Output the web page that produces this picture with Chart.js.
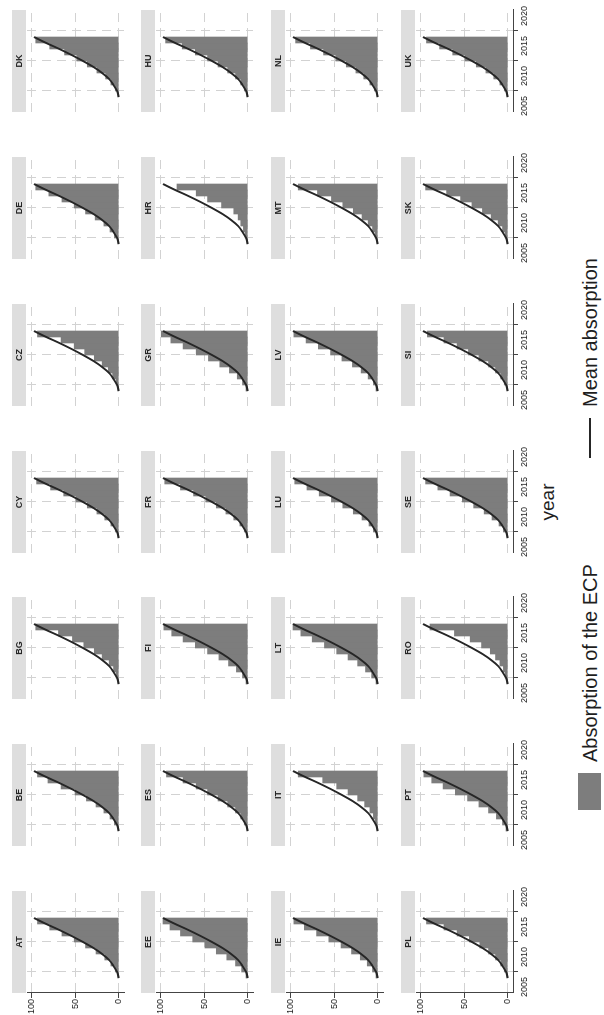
<!DOCTYPE html>
<html>
<head>
<meta charset="utf-8">
<script src="https://cdn.jsdelivr.net/npm/chart.js@4.4.1/dist/chart.umd.min.js"></script>
<style>
  html, body { margin: 0; padding: 0; background: #fff; width: 604px; height: 1015px; overflow: hidden; }
  #fig { position: absolute; left: 0; top: 0; width: 1015px; height: 604px;
         transform-origin: 0 0; transform: translate(0px, 1015px) rotate(-90deg);
         font-family: "Liberation Sans", Arial, sans-serif; color: #1e1e1e; background: #fff; }
  #fig canvas { position: absolute; }
  .abs { position: absolute; white-space: nowrap; }
</style>
</head>
<body>
<div id="fig"></div>
<script>
// ---------------- data ----------------
const years = [2007, 2008, 2009, 2010, 2011, 2012, 2013, 2014, 2015, 2016];
const meanYears = [2006.5, 2007.5, 2008.5, 2009.5, 2010.5, 2011.5, 2012.5, 2013.5, 2014.5, 2015.5, 2016.5];
const meanAbsorption = [0, 2, 6, 11, 19, 29, 41, 54, 68, 83, 97];
const xTickValues = [2005, 2010, 2015, 2020];
const yTickValues = [0, 50, 100];

const panelRows = [
  ["AT", "BE", "BG", "CY", "CZ", "DE", "DK"],
  ["EE", "ES", "FI", "FR", "GR", "HR", "HU"],
  ["IE", "IT", "LT", "LU", "LV", "MT", "NL"],
  ["PL", "PT", "RO", "SE", "SI", "SK", "UK"]
];

const AT = [1, 4, 9, 16, 26, 38, 51, 65, 79, 93];
const BE = [1, 5, 10, 17, 26, 37, 50, 66, 81, 93];
const BG = [1, 3, 6, 11, 19, 28, 40, 53, 69, 95];
const CY = [1, 4, 9, 16, 25, 36, 49, 63, 78, 94];
const CZ = [1, 3, 7, 12, 19, 28, 39, 51, 66, 93];
const DE = [1, 5, 10, 17, 27, 38, 51, 65, 80, 95];
const DK = [1, 4, 9, 15, 25, 36, 48, 62, 79, 95];
const EE = [2, 7, 14, 24, 36, 49, 63, 77, 89, 97];
const ES = [1, 4, 8, 14, 23, 34, 46, 59, 74, 93];
const FI = [2, 6, 13, 22, 33, 46, 60, 74, 87, 96];
const FR = [1, 4, 9, 16, 25, 36, 48, 62, 77, 95];
const GR = [2, 6, 12, 21, 32, 45, 59, 74, 88, 99];
const HR = [1, 3, 5, 8, 11, 16, 30, 46, 59, 81];
const HU = [1, 4, 8, 14, 23, 34, 46, 60, 75, 94];
const IE = [2, 6, 12, 20, 30, 42, 56, 70, 84, 96];
const IT = [1, 3, 5, 9, 15, 23, 34, 47, 63, 91];
const LT = [2, 7, 14, 23, 34, 47, 61, 75, 88, 97];
const LU = [1, 5, 10, 18, 28, 40, 53, 67, 81, 95];
const LV = [2, 5, 11, 19, 29, 41, 54, 68, 82, 96];
const MT = [1, 3, 6, 11, 18, 28, 40, 53, 69, 91];
const NL = [1, 4, 9, 16, 25, 36, 48, 62, 77, 94];
const PL = [1, 4, 8, 14, 22, 32, 44, 58, 73, 93];
const PT = [2, 6, 13, 22, 33, 46, 60, 74, 87, 96];
const RO = [1, 3, 5, 9, 14, 20, 30, 43, 61, 89];
const SE = [1, 5, 10, 18, 27, 39, 52, 66, 80, 94];
const SI = [1, 4, 8, 14, 22, 33, 45, 58, 73, 92];
const SK = [1, 3, 6, 11, 19, 29, 41, 54, 70, 94];
const UK = [1, 4, 9, 16, 25, 36, 49, 63, 78, 93];

const seriesByCountry = { AT, BE, BG, CY, CZ, DE, DK, EE, ES, FI, FR, GR, HR, HU,
  IE, IT, LT, LU, LV, MT, NL, PL, PT, RO, SE, SI, SK, UK };

const legendLabels = ["Absorption of the ECP", "Mean absorption"];
const xTitle = "year";

// ---------------- layout / style ----------------
const FONT = '"Liberation Sans", Arial, sans-serif';
const BAR_COLOR = '#7d7d7d';
const LINE_COLOR = '#262626';
const GRID_COLOR = '#d2d2d2';
const AXIS_COLOR = '#444444';
const STRIP_COLOR = '#dedede';

const PLOT_X0 = 22, PITCH_X = 146.8, PLOT_Y0 = 26.65, PITCH_Y = 129.7;
const AXW = 24, AXH = 22, TOPPAD = 16, RPAD = 4, PW = 102, PH = 97;
const CW = AXW + PW + RPAD, CH = TOPPAD + PH + AXH;

Chart.defaults.font.family = FONT;

const stripPlugin = {
  id: 'strip',
  beforeDraw(chart, args, opts) {
    const { ctx, chartArea } = chart;
    ctx.save();
    ctx.fillStyle = STRIP_COLOR;
    ctx.fillRect(chartArea.left, 1, chartArea.right - chartArea.left, 14);
    ctx.fillStyle = '#262626';
    ctx.font = 'bold 9px ' + FONT;
    ctx.textAlign = 'center';
    ctx.textBaseline = 'middle';
    ctx.fillText(opts.label, (chartArea.left + chartArea.right) / 2, 8.5);
    ctx.restore();
  }
};

const fig = document.getElementById('fig');

panelRows.forEach((row, r) => {
  row.forEach((code, c) => {
    const isLeft = c === 0;
    const isBottom = r === panelRows.length - 1;
    const cv = document.createElement('canvas');
    cv.width = CW; cv.height = CH;
    cv.style.width = CW + 'px'; cv.style.height = CH + 'px';
    cv.style.left = (Math.round(PLOT_X0 + PITCH_X * c) - AXW) + 'px';
    cv.style.top = (Math.round(PLOT_Y0 + PITCH_Y * r) - TOPPAD) + 'px';
    fig.appendChild(cv);

    const vals = seriesByCountry[code];
    new Chart(cv, {
      type: 'bar',
      data: {
        datasets: [
          {
            type: 'line',
            label: legendLabels[1],
            data: meanYears.map((x, i) => ({ x: x, y: meanAbsorption[i] })),
            borderColor: LINE_COLOR,
            borderWidth: 1.9,
            pointRadius: 0,
            cubicInterpolationMode: 'monotone',
            order: 0
          },
          {
            type: 'bar',
            label: legendLabels[0],
            data: years.map((x, i) => ({ x: x, y: vals[i] })),
            backgroundColor: BAR_COLOR,
            borderWidth: 0,
            barPercentage: 1,
            categoryPercentage: 1,
            order: 1
          }
        ]
      },
      options: {
        responsive: false,
        animation: false,
        devicePixelRatio: 1,
        events: [],
        layout: { padding: { left: 0, top: TOPPAD, right: RPAD, bottom: 0 } },
        plugins: { legend: { display: false }, tooltip: { enabled: false }, strip: { label: code } },
        scales: {
          x: {
            type: 'linear', min: 2004, max: 2021, offset: false,
            afterBuildTicks: s => { s.ticks = xTickValues.map(v => ({ value: v })); },
            afterFit: s => { s.height = AXH; s.paddingLeft = 0; s.paddingRight = 0; s.paddingTop = 0; s.paddingBottom = 0; },
            grid: { color: GRID_COLOR, lineWidth: 1, drawTicks: isBottom, tickLength: 5, tickColor: AXIS_COLOR, tickWidth: 1 },
            border: { display: isBottom, color: AXIS_COLOR, width: 1, dash: [9, 6] },
            ticks: { display: isBottom, color: '#1e1e1e', padding: 1, maxRotation: 0, minRotation: 0, autoSkip: false,
                     font: { size: 9, family: FONT }, callback: v => String(v) }
          },
          y: {
            min: -6, max: 105,
            afterBuildTicks: s => { s.ticks = yTickValues.map(v => ({ value: v })); },
            afterFit: s => { s.width = AXW; s.paddingLeft = 0; s.paddingRight = 0; s.paddingTop = 0; s.paddingBottom = 0; },
            grid: { color: GRID_COLOR, lineWidth: 1, drawTicks: isLeft, tickLength: 5, tickColor: AXIS_COLOR, tickWidth: 1 },
            border: { display: isLeft, color: AXIS_COLOR, width: 1, dash: [9, 6] },
            ticks: { display: isLeft, color: '#1e1e1e', padding: 1, autoSkip: false,
                     font: { size: 9, family: FONT }, callback: v => String(v) }
          }
        }
      },
      plugins: [stripPlugin]
    });
  });
});

// ---------------- x title and legend (HTML text) ----------------
function addText(txt, left, top, size, extra) {
  const d = document.createElement('div');
  d.className = 'abs';
  d.textContent = txt;
  d.style.left = left + 'px';
  d.style.top = top + 'px';
  d.style.fontSize = size + 'px';
  d.style.lineHeight = size + 'px';
  if (extra) Object.assign(d.style, extra);
  fig.appendChild(d);
  return d;
}
addText(xTitle, 413, 538, 19, { width: '200px', textAlign: 'center' });

const box = document.createElement('div');
box.className = 'abs';
Object.assign(box.style, { left: '205px', top: '578px', width: '37px', height: '23px', background: BAR_COLOR });
fig.appendChild(box);
addText(legendLabels[0], 253, 580, 20);

const ln = document.createElement('div');
ln.className = 'abs';
Object.assign(ln.style, { left: '557px', top: '589px', width: '40px', height: '2px', background: LINE_COLOR });
fig.appendChild(ln);
addText(legendLabels[1], 608, 580, 20);
</script>
</body>
</html>
